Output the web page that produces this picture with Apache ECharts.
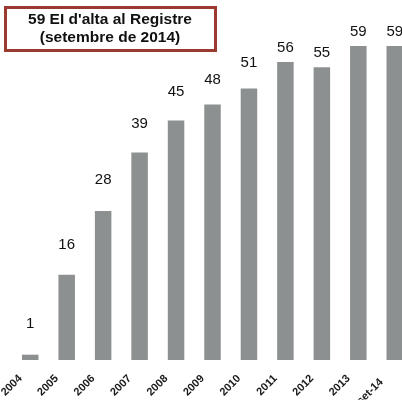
<!DOCTYPE html>
<html lang="ca">
<head>
    <meta charset="UTF-8">
    <script src="https://cdn.jsdelivr.net/npm/echarts@6/dist/echarts.min.js"></script>
    <title>59 EI d'alta al Registre</title>
    <style>
        html, body { margin: 0; padding: 0; background: #fff; }
        #chart { width: 402px; height: 400px; }
    </style>
</head>
<body>
<div id="chart"></div>
<script>
    // dades
    let anys = ['2004', '2005', '2006', '2007', '2008', '2009', '2010', '2011', '2012', '2013', 'set-14'];
    let entitats = [1, 16, 28, 39, 45, 48, 51, 56, 55, 59, 59];
    // distancia de l'etiqueta sobre cada barra (com a l'original)
    let distEtiqueta = [23, 22, 24, 21, 21, 17, 18, 7, 7, 7, 7];

    let font = '"Liberation Sans", Arial, sans-serif';
    let myChart = echarts.init(document.getElementById('chart'));

    // l'etiqueta "set-14" queda una mica mes avall a l'original
    let categories = anys.map(function (a) {
        if (a === 'set-14') {
            return { value: a, textStyle: { padding: [12, 19, 0, 0] } };
        }
        return a;
    });

    let option = {
        animation: false,
        backgroundColor: '#fff',
        grid: {
            left: 12,
            right: -11,
            top: 46,
            bottom: 40,
            containLabel: false,
            outerBoundsMode: 'none'
        },
        xAxis: {
            type: 'category',
            data: categories,
            axisLine: { show: false },
            axisTick: { show: false },
            axisLabel: {
                interval: 0,
                rotate: 45,
                margin: 7,
                padding: [0, 14, 0, 0],
                fontFamily: font,
                fontWeight: 'bold',
                fontSize: 11,
                color: '#1a1a1a'
            }
        },
        yAxis: {
            type: 'value',
            min: 0,
            max: 59,
            show: false
        },
        series: [{
            type: 'bar',
            barWidth: 16.5,
            itemStyle: { color: '#8d9090' },
            data: entitats.map(function (v, i) {
                return {
                    value: v,
                    label: { distance: distEtiqueta[i] }
                };
            }),
            label: {
                show: true,
                position: 'top',
                fontFamily: font,
                fontSize: 15,
                color: '#111'
            }
        }],
        graphic: [{
            type: 'rect',
            shape: { x: 5.5, y: 7.5, width: 210, height: 43 },
            style: { fill: '#fff', stroke: '#9b3a2e', lineWidth: 3 },
            z: 10
        }, {
            type: 'text',
            x: 110,
            y: 29,
            style: {
                text: "59 EI d'alta al Registre\n(setembre de 2014)",
                font: 'bold 15.5px ' + font,
                fill: '#111',
                align: 'center',
                verticalAlign: 'middle',
                lineHeight: 18
            },
            z: 11
        }]
    };
    myChart.setOption(option);
</script>
</body>
</html>
